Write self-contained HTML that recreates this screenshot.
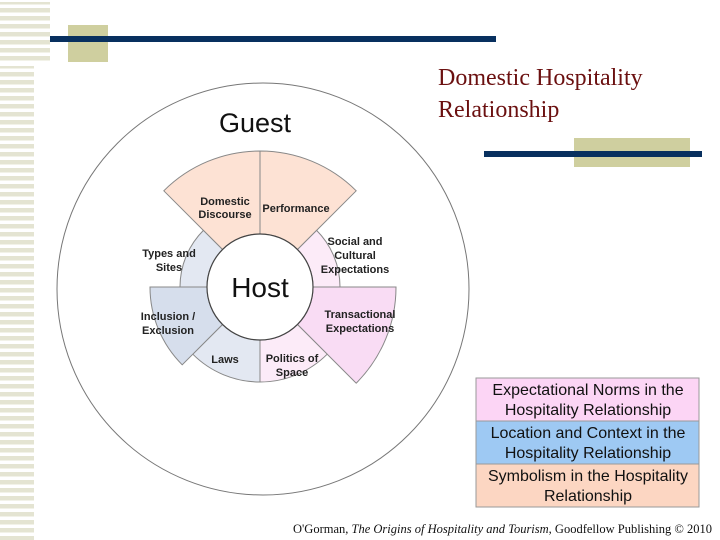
<!DOCTYPE html>
<html><head><meta charset="utf-8"><style>
html,body{margin:0;padding:0;background:#fff;}
body{width:720px;height:540px;position:relative;overflow:hidden;font-family:"Liberation Sans",sans-serif;}
</style></head><body>
<svg width="720" height="540" viewBox="0 0 720 540" xmlns="http://www.w3.org/2000/svg" style="position:absolute;left:0;top:0">
<defs>
<pattern id="st" width="50" height="8" patternUnits="userSpaceOnUse"><rect width="50" height="4.5" fill="#e4e4d2"/></pattern>
</defs>
<rect x="0" y="2" width="50" height="60" fill="url(#st)"/>
<rect x="0" y="66" width="34" height="474" fill="url(#st)"/>
<rect x="68" y="25" width="40" height="37" fill="#cfcf9f"/>
<rect x="50" y="36" width="446" height="6" fill="#08305f"/>
<rect x="574" y="138" width="116" height="29" fill="#cfcf9f"/>
<rect x="484" y="151" width="218" height="6" fill="#08305f"/>
<text x="438" y="85" font-family="Liberation Serif,serif" font-size="24" fill="#6b1010">Domestic Hospitality</text>
<text x="438" y="117" font-family="Liberation Serif,serif" font-size="24" fill="#6b1010">Relationship</text>
<circle cx="263" cy="289" r="206" fill="none" stroke="#777" stroke-width="1"/>
<g stroke="#888" stroke-width="1">
<path d="M163.8,190.8 A136,136 0 0 1 260,151 L260,234 A53,53 0 0 0 222.5,249.5Z" fill="#fde2d4"/>
<path d="M260,151 A136,136 0 0 1 356.2,190.8 L297.5,249.5 A53,53 0 0 0 260,234Z" fill="#fde2d4"/>
<path d="M316.6,230.4 A80,80 0 0 1 340,287 L313,287 A53,53 0 0 0 297.5,249.5Z" fill="#fcebf8"/>
<path d="M396,287 A136,136 0 0 1 356.2,383.2 L297.5,324.5 A53,53 0 0 0 313,287Z" fill="#f9dcf4"/>
<path d="M327.2,354.2 A95,95 0 0 1 260,382 L260,340 A53,53 0 0 0 297.5,324.5Z" fill="#fcebf8"/>
<path d="M260,382 A95,95 0 0 1 192.8,354.2 L222.5,324.5 A53,53 0 0 0 260,340Z" fill="#e3e8f2"/>
<path d="M182.2,364.8 A110,110 0 0 1 150,287 L207,287 A53,53 0 0 0 222.5,324.5Z" fill="#d6deec"/>
<path d="M180,287 A80,80 0 0 1 203.4,230.4 L222.5,249.5 A53,53 0 0 0 207,287Z" fill="#e3e8f2"/>
<circle cx="260" cy="287" r="53" fill="#fff" stroke="#444" stroke-width="1.2"/>
</g>
<g font-family="Liberation Sans,sans-serif" font-weight="bold" font-size="11" fill="#222" text-anchor="middle">
<text x="225" y="205">Domestic</text><text x="225" y="218">Discourse</text>
<text x="296" y="212">Performance</text>
<text x="355" y="245">Social and</text><text x="355" y="259">Cultural</text><text x="355" y="273">Expectations</text>
<text x="360" y="318">Transactional</text><text x="360" y="332">Expectations</text>
<text x="292" y="362">Politics of</text><text x="292" y="376">Space</text>
<text x="225" y="363">Laws</text>
<text x="168" y="320">Inclusion /</text><text x="168" y="334">Exclusion</text>
<text x="169" y="257">Types and</text><text x="169" y="271">Sites</text>
</g>
<text x="255" y="132" font-size="27" text-anchor="middle" fill="#111">Guest</text>
<text x="260" y="297" font-size="28" text-anchor="middle" fill="#111">Host</text>
<g stroke="#999" stroke-width="1">
<rect x="476" y="378" width="223" height="43" fill="#fcd5f5"/>
<rect x="476" y="421" width="223" height="43" fill="#9ec9f3"/>
<rect x="476" y="464" width="223" height="43" fill="#fcd6c2"/>
</g>
<g font-size="16" text-anchor="middle" fill="#111">
<text x="588" y="395">Expectational Norms in the</text><text x="588" y="415">Hospitality Relationship</text>
<text x="588" y="438">Location and Context in the</text><text x="588" y="458">Hospitality Relationship</text>
<text x="588" y="481">Symbolism in the Hospitality</text><text x="588" y="501">Relationship</text>
</g>
<text x="712" y="533" font-family="Liberation Serif,serif" font-size="12.5" text-anchor="end" fill="#111">O'Gorman, <tspan font-style="italic">The Origins of Hospitality and Tourism</tspan>, Goodfellow Publishing © 2010</text>
</svg>
</body></html>
